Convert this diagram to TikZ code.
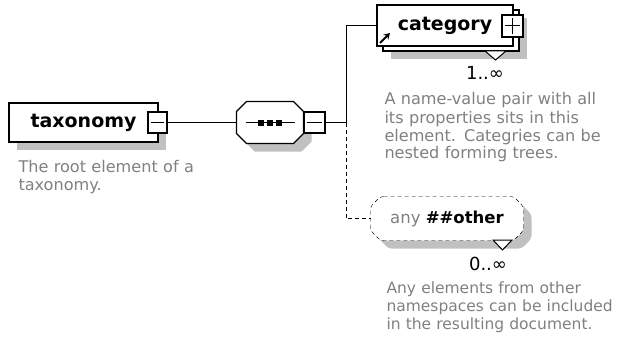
\documentclass[tikz,border=0pt]{standalone}
\usepackage{fontspec}
\setmainfont{DejaVu Sans}
\usetikzlibrary{shadows,arrows.meta,backgrounds}
\definecolor{descgray}{RGB}{128,128,128}
\definecolor{shadowgray}{RGB}{192,192,192}

\begin{document}
\begin{tikzpicture}[x=1pt,y=-1pt,line width=1pt,
    elem/.style={draw,line width=1.2pt,fill=white,inner sep=0pt,font=\fontsize{19}{22}\selectfont\bfseries},
    shadowed/.style={drop shadow={shadow xshift=8pt,shadow yshift=-8pt,fill=shadowgray,opacity=1}},
    desc/.style={inner sep=0pt,align=left,text width=300pt,text=descgray,font=\fontsize{16.1}{18}\selectfont},
    card/.style={inner sep=0pt,font=\fontsize{18}{20}\selectfont}]
  \useasboundingbox (0,0) rectangle (619,345);

  % root element
  \node[elem,shadowed,minimum width=149pt,minimum height=39pt] (tax) at (83.5,122.5) {taxonomy\hspace{6pt}};
  \node[elem,minimum width=19pt,minimum height=21pt] (taxminus) at (157.5,122.5) {};
  \draw ([xshift=4pt]taxminus.west) -- ([xshift=-4pt]taxminus.east);
  \node[desc,anchor=base west] (taxdoc) at (18,172) {The root element of a\\taxonomy.};

  % sequence
  \node[inner sep=0pt,minimum width=66pt,minimum height=41pt] (seq) at (270,122.5) {};
  \begin{scope}[on background layer]
    \draw[shadowed,fill=white,line width=1.2pt] ([xshift=10pt]seq.north west) -- ([xshift=-10pt]seq.north east)
      -- ([yshift=-10pt]seq.north east) -- ([yshift=10pt]seq.south east) -- ([xshift=-10pt]seq.south east)
      -- ([xshift=10pt]seq.south west) -- ([yshift=10pt]seq.south west) -- ([yshift=-10pt]seq.north west) -- cycle;
  \end{scope}
  \draw ([xshift=9pt]seq.west) -- ([xshift=-9pt]seq.east);
  \foreach \dx in {-9,0,9}
    \fill ([xshift=\dx pt]seq.center) +(-3,-3) rectangle +(3,3);
  \node[elem,minimum width=21pt,minimum height=21pt] (seqminus) at (314.5,122.5) {};
  \draw ([xshift=4pt]seqminus.west) -- ([xshift=-4pt]seqminus.east);
  \coordinate (junc) at (346,122.5);

  % category
  \node[elem,shadowed,minimum width=136pt,minimum height=41pt] (catback) at (451,30.5) {};
  \node[elem,minimum width=136pt,minimum height=41pt] (cat) at (445,25.5) {category\hspace{24pt}};
  \node[elem,minimum width=21pt,minimum height=22pt] (catplus) at (512.5,26) {};
  \draw ([xshift=4pt]catplus.west) -- ([xshift=-4pt]catplus.east)
        ([yshift=-4pt]catplus.north) -- ([yshift=4pt]catplus.south);
  \draw[-{Stealth[length=6pt,width=7pt]},line width=1.8pt] (380,43) -- (390,33);
  \draw[fill=white] (485,51) -- (506,51) -- (495.5,60) -- cycle;
  \node[card,anchor=base] (catcard) at (485,80) {1..∞};
  \node[desc,anchor=base west] (catdoc) at (384,105) {A name-value pair with all\\its properties sits in this\\element. Categries can be\\nested forming trees.};

  % any
  \node[inner sep=0pt,minimum width=152pt,minimum height=43pt,font=\fontsize{16.5}{20}\selectfont] (any) at (447,218.5) {{\color{descgray}any} \bfseries\#\#other};
  \begin{scope}[on background layer]
    \draw[shadowed,fill=white,dash pattern=on 4pt off 3pt,rounded corners=3pt] ([xshift=10pt]any.north west) -- ([xshift=-10pt]any.north east)
      -- ([yshift=-10pt]any.north east) -- ([yshift=10pt]any.south east) -- ([xshift=-10pt]any.south east)
      -- ([xshift=10pt]any.south west) -- ([yshift=10pt]any.south west) -- ([yshift=-10pt]any.north west) -- cycle;
  \end{scope}
  \draw[fill=white] (493,240) -- (512,240) -- (502.5,250) -- cycle;
  \node[card,anchor=base] (anycard) at (488,270) {0..∞};
  \node[desc,anchor=base west,font=\fontsize{15.5}{18}\selectfont] (anydoc) at (386,293) {Any elements from other\\namespaces can be included\\in the resulting document.};

  % connectors
  \draw (taxminus.east) -- (seq.west);
  \draw (seqminus.east) -- (junc);
  \draw (junc) |- (cat.west);
  \draw[dash pattern=on 4pt off 3pt] (junc) |- (any.west);
\end{tikzpicture}
\end{document}
